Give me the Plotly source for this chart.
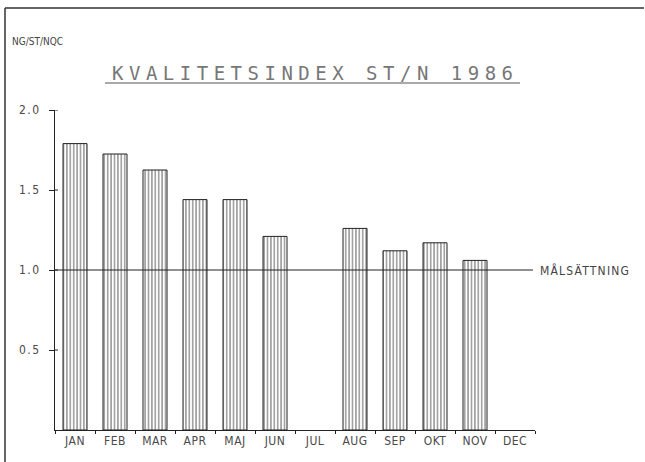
import plotly.graph_objects as go

months = ["JAN", "FEB", "MAR", "APR", "MAJ", "JUN", "JUL", "AUG", "SEP", "OKT", "NOV", "DEC"]
values = [1.79, 1.725, 1.625, 1.44, 1.44, 1.21, None, 1.26, 1.12, 1.17, 1.06, None]
target = 1.0
y_ticks = [0.5, 1.0, 1.5, 2.0]
y_tick_labels = ["0.5", "1.0", "1.5", "2.0"]

W, H = 645, 462
L, R, T, B = 55, 110, 110, 32
pw, ph = W - L - R, H - T - B

def px(x):
    return (x - L) / pw

def py(y):
    return (H - B - y) / ph

def spaced(s, sp):
    return '<span style="letter-spacing:%spx">%s</span>' % (sp, s)

fig = go.Figure()
fig.add_trace(go.Bar(
    x=months, y=values, width=0.6,
    marker=dict(color="white", line=dict(color="#222", width=1),
                pattern=dict(shape="|", size=3.4, solidity=0.45, fgcolor="#333", bgcolor="white")),
    hoverinfo="skip",
))

font = dict(family="DejaVu Sans Condensed, DejaVu Sans, sans-serif", size=12, color="#4a4a4a")

fig.update_layout(
    width=W, height=H,
    margin=dict(l=L, r=R, t=T, b=B),
    paper_bgcolor="white", plot_bgcolor="white",
    showlegend=False, bargap=0.4,
    font=font,
    xaxis=dict(type="category", categoryorder="array", categoryarray=months,
               tickvals=months, ticktext=[spaced(m, 0.5) for m in months],
               showgrid=False, showline=True, linecolor="#222", linewidth=1,
               ticks="outside", tickson="boundaries", ticklen=3, tickcolor="#222",
               tickfont=font, zeroline=False),
    yaxis=dict(range=[0, 2.0], tickvals=y_ticks, ticktext=[spaced(t, 1.5) for t in y_tick_labels],
               showgrid=False, showline=True, linecolor="#222", linewidth=1,
               ticks="outside", ticklen=5, tickcolor="#222", tickfont=font,
               zeroline=False, ticklabelstandoff=6),
)

shapes = [
    dict(type="line", xref="paper", yref="y", x0=0, x1=px(533), y0=target, y1=target,
         line=dict(color="#222", width=1)),
    dict(type="line", xref="paper", yref="paper", x0=px(105), x1=px(520), y0=py(83), y1=py(83),
         line=dict(color="#555", width=1)),
    dict(type="line", xref="paper", yref="paper", x0=px(5), x1=px(5), y0=py(8), y1=py(H),
         line=dict(color="#333", width=1.5)),
    dict(type="line", xref="paper", yref="paper", x0=px(5), x1=px(644), y0=py(8), y1=py(8),
         line=dict(color="#333", width=1.5)),
]
for v in y_ticks:
    shapes.append(dict(type="line", xref="paper", yref="y", x0=0, x1=px(L + 3), y0=v, y1=v,
                       line=dict(color="#222", width=1)))
fig.update_layout(shapes=shapes)

fig.add_annotation(text=spaced("KVALITETSINDEX ST/N 1986", 5.5),
                   xref="paper", yref="paper",
                   x=px(315), y=py(73), showarrow=False, xanchor="center", yanchor="middle",
                   font=dict(family="DejaVu Sans Mono, monospace", size=19, color="#777"))
fig.add_annotation(text="NG/ST/NQC", xref="paper", yref="paper", x=px(10), y=py(41),
                   showarrow=False, xanchor="left", yanchor="middle",
                   font=dict(family="DejaVu Sans Condensed, DejaVu Sans, sans-serif", size=10, color="#444"))
fig.add_annotation(text=spaced("MÅLSÄTTNING", 1.2), xref="paper", yref="y", x=px(538), y=target,
                   showarrow=False, xanchor="left", yanchor="middle",
                   font=dict(family="DejaVu Sans Condensed, DejaVu Sans, sans-serif", size=12, color="#444"))

fig.write_html("out.html", config={"displayModeBar": False})
with open("out.html", encoding="utf-8") as f:
    html = f.read()
html = html.replace("<head>", "<head><style>body{margin:0;}</style>", 1)
with open("out.html", "w", encoding="utf-8") as f:
    f.write(html)
